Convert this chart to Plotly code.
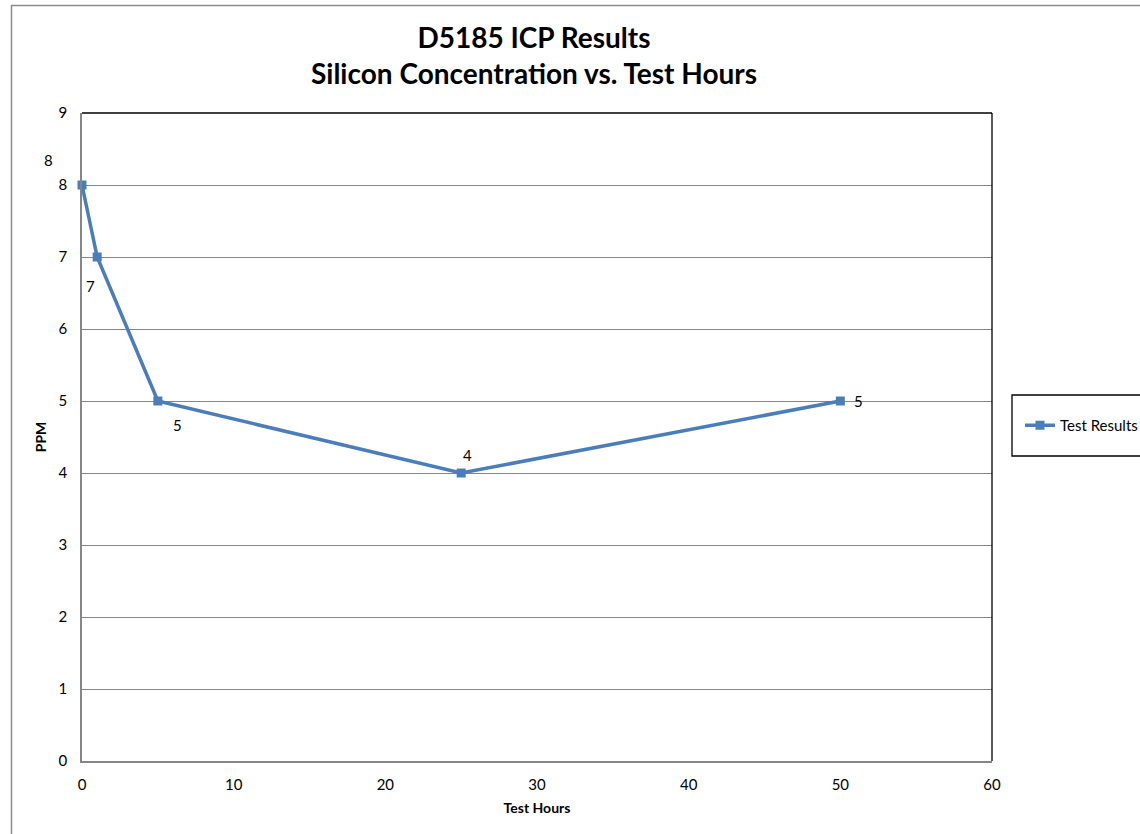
import plotly.graph_objects as go

hours = [0, 1, 5, 25, 50]
ppm = [8, 7, 5, 4, 5]
series_name = "Test Results"
title_lines = ["D5185 ICP Results", "Silicon Concentration vs. Test Hours"]
x_title = "Test Hours"
y_title = "PPM"

# label offsets in pixels (dx, dy) relative to each point (style only)
label_offsets = [(-34, 25), (-7, -29), (20, -24), (6, 18), (18, 0)]

FONT = "Lato, Open Sans, sans-serif"
W, H = 1140, 834
# plot area in page pixels: x 82..992, y 113..761
L, T = 82, 113
pw, ph = 910, 648
R = W - L - pw
B = H - T - ph

def px_to_paper_x(px):
    return (px - L) / pw

def px_to_paper_y(py):
    return (T + ph - py) / ph

fig = go.Figure()
fig.add_trace(go.Scatter(
    x=hours, y=ppm, mode="lines+markers", name=series_name,
    line=dict(color="#4A7EBB", width=3.5),
    marker=dict(symbol="square", size=9, color="#4A7EBB"),
    cliponaxis=False,
))

annotations = []
for xv, yv, (dx, dy) in zip(hours, ppm, label_offsets):
    annotations.append(dict(
        x=xv, y=yv, xref="x", yref="y", text=str(yv), showarrow=False,
        xshift=dx, yshift=dy, font=dict(family=FONT, size=15, color="#000000"),
    ))

annotations.append(dict(
    x=px_to_paper_x(534), y=px_to_paper_y(55), xref="paper", yref="paper",
    text="<b>" + title_lines[0] + "</b><br><b>" + title_lines[1] + "</b>",
    showarrow=False, font=dict(family=FONT, size=28, color="#000000"),
    xanchor="center", yanchor="middle",
))

shapes = [
    # outer chart border
    dict(type="rect", xref="paper", yref="paper",
         x0=px_to_paper_x(11.5), x1=px_to_paper_x(1300),
         y0=px_to_paper_y(900), y1=px_to_paper_y(5.5),
         line=dict(color="#8C8C8C", width=1.5), layer="below"),
    # plot top and right borders (black)
    dict(type="line", xref="paper", yref="paper", x0=0, x1=1, y0=1, y1=1,
         line=dict(color="#000000", width=1.3)),
    dict(type="line", xref="paper", yref="paper", x0=1, x1=1, y0=0, y1=1,
         line=dict(color="#000000", width=1.3)),
    # legend box
    dict(type="rect", xref="paper", yref="paper",
         x0=px_to_paper_x(1012), x1=px_to_paper_x(1160),
         y0=px_to_paper_y(456), y1=px_to_paper_y(395),
         line=dict(color="#000000", width=1.3)),
]

fig.update_layout(
    width=W, height=H,
    margin=dict(l=L, r=R, t=T, b=B, autoexpand=False),
    paper_bgcolor="white", plot_bgcolor="white",
    font=dict(family=FONT, size=15, color="#000000"),
    showlegend=True,
    legend=dict(x=px_to_paper_x(1020), y=px_to_paper_y(425.5),
                xanchor="left", yanchor="middle",
                bgcolor="rgba(0,0,0,0)", borderwidth=0,
                font=dict(family=FONT, size=15, color="#000000"),
                itemwidth=30),
    annotations=annotations,
    shapes=shapes,
    xaxis=dict(range=[0, 60], dtick=10, tick0=0, showgrid=False, zeroline=False,
               showline=True, linecolor="#868686", linewidth=1.5,
               ticks="", ticklabelstandoff=9, tickfont=dict(size=15),
               title=dict(text="<b>" + x_title + "</b>", font=dict(family=FONT, size=14), standoff=11)),
    yaxis=dict(range=[0, 9], dtick=1, tick0=0, showgrid=True, gridcolor="#868686", gridwidth=1.3,
               zeroline=False, showline=True, linecolor="#868686", linewidth=1.5,
               ticks="", ticklabelstandoff=10, tickfont=dict(size=15),
               title=dict(text="<b>" + y_title + "</b>", font=dict(family=FONT, size=14), standoff=9)),
)

fig.write_html("out.html", config={"displayModeBar": False},
               post_script="document.body.style.margin='0';")
